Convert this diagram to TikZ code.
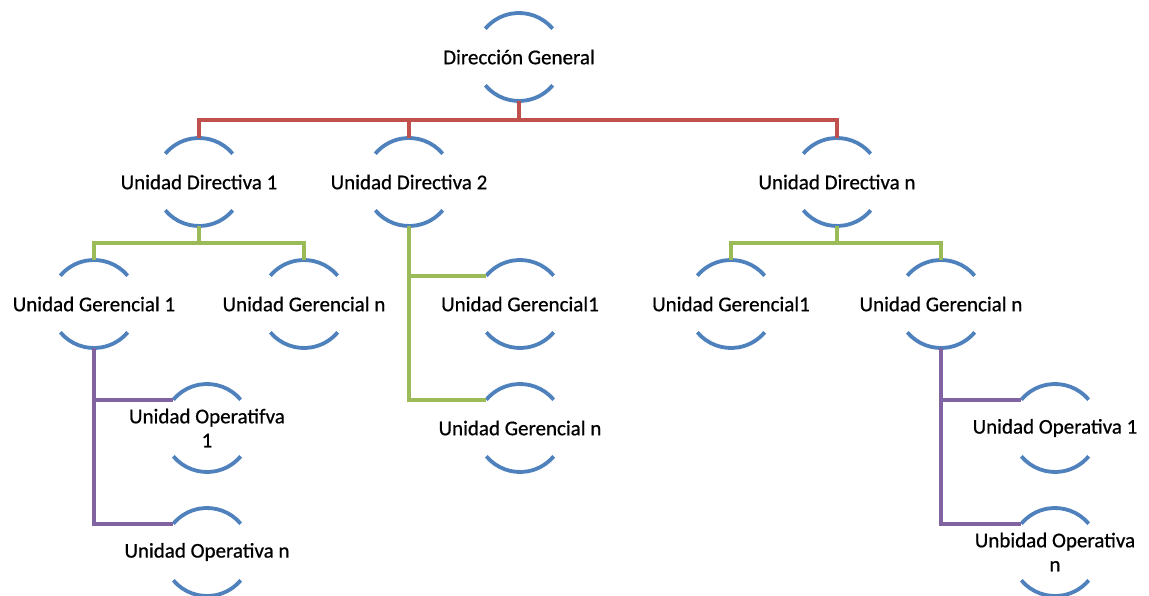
\documentclass[tikz,border=0pt]{standalone}
\usepackage{fontspec}
\setmainfont{Carlito}
\newfontfamily\unitfont[FakeBold=0.7]{Carlito}
\definecolor{arcblue}{HTML}{4F81BD}
\definecolor{linkred}{HTML}{C0504D}
\definecolor{linkgreen}{HTML}{9BBB59}
\definecolor{linkpurple}{HTML}{8064A2}
\tikzset{
  unit/.style={circle, minimum size=88pt, inner sep=0pt, outer sep=0pt, draw=none,
    label={[font=\unitfont\fontsize{21}{24}\selectfont, align=center, text=black]center:#1}},
  rim/.style={draw=arcblue, line width=3.8pt},
  link/.style={line width=3.8pt},
}
\begin{document}
\begin{tikzpicture}[x=1pt, y=1pt]
  \useasboundingbox (0,0) rectangle (1149,595);
  \clip (0,0) rectangle (1149,595);

  % hierarchy levels
  \node[unit={Dirección General}] (dg) at (519,538) {};

  \node[unit={Unidad Directiva 1}] (ud1) at (199,413) {};
  \node[unit={Unidad Directiva 2}] (ud2) at (409,413) {};
  \node[unit={Unidad Directiva n}] (udn) at (837,413) {};

  \node[unit={Unidad Gerencial 1}] (uga1) at (94,291) {};
  \node[unit={Unidad Gerencial n}] (ugan) at (304,291) {};
  \node[unit={Unidad Gerencial1}] (ugb1) at (520,291) {};
  \node[unit={Unidad Gerencial n}] (ugbn) at (520,167) {};
  \node[unit={Unidad Gerencial1}] (ugc1) at (731,291) {};
  \node[unit={Unidad Gerencial n}] (ugcn) at (941,291) {};

  \node[unit={Unidad Operatifva\\1}] (uoa1) at (207,167) {};
  \node[unit={Unidad Operativa n}] (uoan) at (207,43) {};
  \node[unit={Unidad Operativa 1}] (uob1) at (1055,167) {};
  \node[unit={Unbidad Operativa\\n}] (uobn) at (1055,43) {};

  % open circle rims: one arc above and one below each title
  \foreach \n in {dg,ud1,ud2,udn,uga1,ugan,ugb1,ugbn,ugc1,ugcn,uoa1,uoan,uob1,uobn}{
    \draw[rim] (\n.40) arc[start angle=40, end angle=140, radius=44pt];
    \draw[rim] (\n.220) arc[start angle=220, end angle=320, radius=44pt];
  }

  % top level links
  \coordinate (rbus) at (519,475);
  \draw[link, linkred] (dg.south) -- (rbus);
  \draw[link, linkred] (ud1.north) -- (ud1.north |- rbus) -- (udn.north |- rbus) -- (udn.north);
  \draw[link, linkred] (ud2.north) -- (ud2.north |- rbus);

  % second level links
  \coordinate (gbusa) at (199,352);
  \draw[link, linkgreen] (ud1.south) -- (gbusa);
  \draw[link, linkgreen] (uga1.north) -- (uga1.north |- gbusa) -- (ugan.north |- gbusa) -- (ugan.north);

  \draw[link, linkgreen] (ud2.south) |- (ugbn.140);
  \draw[link, linkgreen] (ud2.south |- ugb1.140) -- (ugb1.140);

  \coordinate (gbusc) at (837,352);
  \draw[link, linkgreen] (udn.south) -- (gbusc);
  \draw[link, linkgreen] (ugc1.north) -- (ugc1.north |- gbusc) -- (ugcn.north |- gbusc) -- (ugcn.north);

  % third level links
  \draw[link, linkpurple] (uga1.south) |- (uoan.140);
  \draw[link, linkpurple] (uga1.south |- uoa1.140) -- (uoa1.140);

  \draw[link, linkpurple] (ugcn.south) |- (uobn.140);
  \draw[link, linkpurple] (ugcn.south |- uob1.140) -- (uob1.140);
\end{tikzpicture}
\end{document}
